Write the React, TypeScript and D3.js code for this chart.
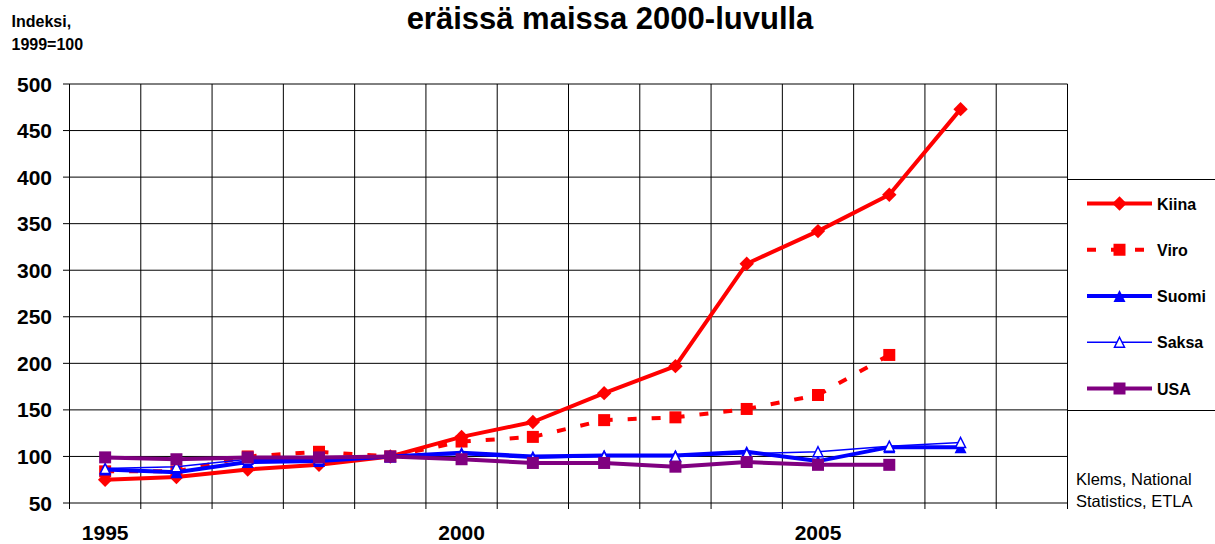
import { useEffect, useRef } from 'react';
import * as d3 from 'd3';

const years = [1995, 1996, 1997, 1998, 1999, 2000, 2001, 2002, 2003, 2004, 2005, 2006, 2007];
const allCategories = [...years, 2008];
const xTickLabels = [1995, 2000, 2005];
const yTicks = [50, 100, 150, 200, 250, 300, 350, 400, 450, 500];

const kiina = [75, 78, 86, 91, 100, 121, 137, 168, 197, 307, 342, 381, 473];
const viro = [84, 84, 100, 105, 100, 116, 121, 139, 142, 151, 166, 209, null];
const suomi = [86, 83, 94, 95, 100, 104, 100, 101, 101, 105, 95, 110, 110];
const saksa = [87, 89, 97, 97, 100, 102, 98, 100, 100, 103, 105, 111, 115];
const usa = [99, 97, 99, 99, 100, 97, 93, 93, 89, 94, 91, 91, null];

const series = [
  { name: 'Kiina', values: kiina, color: '#ff0000', width: 4, dash: null, marker: 'diamond' },
  { name: 'Viro', values: viro, color: '#ff0000', width: 4, dash: '9,15', marker: 'square' },
  { name: 'Suomi', values: suomi, color: '#0000ff', width: 4, dash: null, marker: 'triangle' },
  { name: 'Saksa', values: saksa, color: '#0000ff', width: 1.5, dash: null, marker: 'openTriangle' },
  { name: 'USA', values: usa, color: '#800080', width: 4, dash: null, marker: 'square' },
];

const FONT = '"Liberation Sans", Arial, sans-serif';

function markerPath(kind, cx, cy) {
  if (kind === 'diamond') {
    const r = 7.2;
    return `M${cx},${cy - r}L${cx + r},${cy}L${cx},${cy + r}L${cx - r},${cy}Z`;
  }
  if (kind === 'square') {
    const r = 6;
    return `M${cx - r},${cy - r}H${cx + r}V${cy + r}H${cx - r}Z`;
  }
  const w = kind === 'openTriangle' ? 5 : 6;
  return `M${cx},${cy - w}L${cx + w},${cy + w}L${cx - w},${cy + w}Z`;
}

const ChartPage = () => {
  const ref = useRef(null);

  useEffect(() => {
    const svg = d3.select(ref.current);
    svg.selectAll('*').remove();

    const left = 69.5;
    const right = 1067.5;
    const top = 84;
    const bottom = 503;

    const x = d3.scaleBand().domain(allCategories).range([left, right]);
    const y = d3.scaleLinear().domain([50, 500]).range([bottom, top]);

    // gridlines
    const grid = svg.append('g').attr('stroke', '#000').attr('stroke-width', 1);
    yTicks.forEach((t) => {
      grid.append('line').attr('x1', left - 6.5).attr('x2', right).attr('y1', y(t)).attr('y2', y(t));
    });
    allCategories.forEach((c) => {
      grid.append('line').attr('x1', x(c)).attr('x2', x(c)).attr('y1', top).attr('y2', bottom + 6);
    });
    grid.append('line').attr('x1', right).attr('x2', right).attr('y1', top).attr('y2', bottom + 6);

    // y labels
    svg
      .append('g')
      .selectAll('text')
      .data(yTicks)
      .join('text')
      .attr('x', 52)
      .attr('y', (d) => y(d) + 7.5)
      .attr('text-anchor', 'end')
      .attr('font-family', FONT)
      .attr('font-weight', 'bold')
      .attr('font-size', 21)
      .text((d) => d);

    // x labels
    svg
      .append('g')
      .selectAll('text')
      .data(xTickLabels)
      .join('text')
      .attr('x', (d) => x(d) + x.bandwidth() / 2)
      .attr('y', 539.5)
      .attr('text-anchor', 'middle')
      .attr('font-family', FONT)
      .attr('font-weight', 'bold')
      .attr('font-size', 21)
      .text((d) => d);

    // series
    series.forEach((s) => {
      const pts = years.map((yr, i) => [yr, s.values[i]]).filter((p) => p[1] != null);
      const line = d3
        .line()
        .x((d) => x(d[0]) + x.bandwidth() / 2)
        .y((d) => y(d[1]));
      svg
        .append('path')
        .attr('d', line(pts))
        .attr('fill', 'none')
        .attr('stroke', s.color)
        .attr('stroke-width', s.width)
        .attr('stroke-linejoin', 'round')
        .attr('stroke-dasharray', s.dash);
      svg
        .append('g')
        .selectAll('path')
        .data(pts)
        .join('path')
        .attr('d', (d) => markerPath(s.marker, x(d[0]) + x.bandwidth() / 2, y(d[1])))
        .attr('fill', s.marker === 'openTriangle' ? '#fff' : s.color)
        .attr('stroke', s.marker === 'openTriangle' ? s.color : 'none')
        .attr('stroke-width', 1.5);
    });

    // legend
    const lg = svg.append('g');
    lg.append('rect')
      .attr('x', right)
      .attr('y', 179.5)
      .attr('width', 200)
      .attr('height', 231)
      .attr('fill', '#fff')
      .attr('stroke', '#000')
      .attr('stroke-width', 1);
    const legendY = d3.scalePoint().domain(series.map((s) => s.name)).range([203.5, 388.5]);
    series.forEach((s) => {
      const ly = legendY(s.name);
      lg.append('line')
        .attr('x1', 1087)
        .attr('x2', 1152)
        .attr('y1', ly)
        .attr('y2', ly)
        .attr('stroke', s.color)
        .attr('stroke-width', s.width)
        .attr('stroke-dasharray', s.dash);
      lg.append('path')
        .attr('d', markerPath(s.marker, 1119.5, ly))
        .attr('fill', s.marker === 'openTriangle' ? '#fff' : s.color)
        .attr('stroke', s.marker === 'openTriangle' ? s.color : 'none')
        .attr('stroke-width', 1.5);
      lg.append('text')
        .attr('x', 1157)
        .attr('y', ly + 6)
        .attr('font-family', FONT)
        .attr('font-weight', 'bold')
        .attr('font-size', 16)
        .text(s.name);
    });

    // titles and notes
    svg.append('text')
      .attr('x', 610)
      .attr('y', 28.5)
      .attr('text-anchor', 'middle')
      .attr('font-family', FONT)
      .attr('font-weight', 'bold')
      .attr('font-size', 31)
      .text('eräissä maissa 2000-luvulla');
    svg.append('text')
      .attr('x', 11.5)
      .attr('y', 26.5)
      .attr('font-family', FONT)
      .attr('font-weight', 'bold')
      .attr('font-size', 16)
      .text('Indeksi,');
    svg.append('text')
      .attr('x', 11.5)
      .attr('y', 49.5)
      .attr('font-family', FONT)
      .attr('font-weight', 'bold')
      .attr('font-size', 16)
      .text('1999=100');
    svg.append('text')
      .attr('x', 1076)
      .attr('y', 485)
      .attr('font-family', FONT)
      .attr('font-size', 16.5)
      .text('Klems, National');
    svg.append('text')
      .attr('x', 1076)
      .attr('y', 506.5)
      .attr('font-family', FONT)
      .attr('font-size', 16.5)
      .text('Statistics, ETLA');
  }, [ref]);

  return (
    <svg
      ref={ref}
      width={1215}
      height={544}
      style={{ position: 'absolute', left: 0, top: 0, background: '#fff' }}
    />
  );
};

export default function App() {
  return (
    <div>
      <ChartPage />
    </div>
  );
}
